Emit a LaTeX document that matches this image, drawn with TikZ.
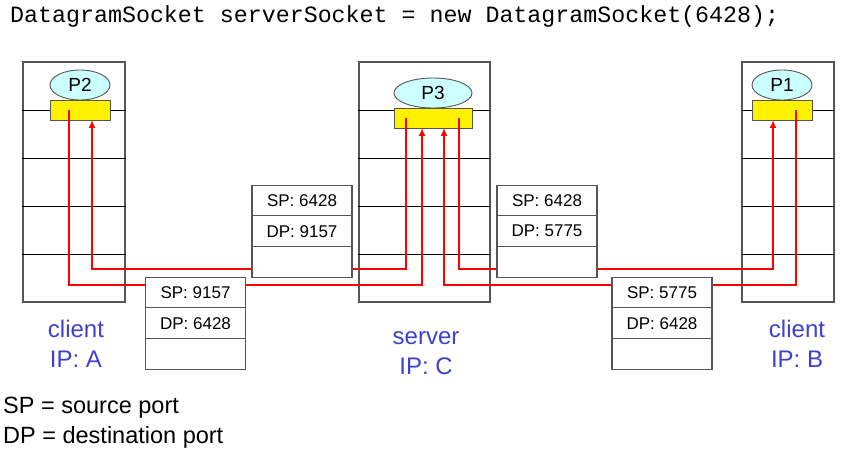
\documentclass[tikz,border=0pt]{standalone}
\usepackage{fontspec}
\setmainfont{Liberation Sans}
\setmonofont{Liberation Mono}
\usepackage{xcolor}
\usepackage{tikz}
\usetikzlibrary{positioning,arrows.meta,shapes.geometric}
\definecolor{hostblue}{RGB}{64,64,208}
\definecolor{procfill}{RGB}{204,255,255}
\definecolor{edgegray}{RGB}{85,85,85}
\def\sz#1{\fontsize{#1}{1.25\dimexpr#1pt\relax}\selectfont}

\begin{document}
\begin{tikzpicture}[x=1pt,y=-1pt]
    \tikzstyle{host}=[draw=edgegray,line width=1.3pt,minimum height=240pt,inner sep=0pt]
    \tikzstyle{layer}=[black,line width=0.9pt]
    \tikzstyle{proc}=[ellipse,draw=edgegray,fill=procfill,line width=0.9pt,minimum height=30pt,inner sep=0pt,outer sep=0pt,font=\sz{19}]
    \tikzstyle{sock}=[draw=edgegray,fill=yellow,line width=0.9pt,minimum height=20pt,inner sep=0pt,outer sep=0pt]
    \tikzstyle{seg}=[draw=edgegray,fill=white,line width=1.1pt,minimum width=100pt,minimum height=30.7pt,inner sep=0pt,outer sep=0pt,font=\sz{17}]
    \tikzstyle{flow}=[red,line width=1.9pt]
    \tikzstyle{flowin}=[flow,-{Latex[length=8pt,width=7pt]}]
    \tikzstyle{hostlabel}=[hostblue,align=center,font=\fontsize{24}{30}\selectfont]
    \useasboundingbox (0,0) rectangle (842,449);
    \node[anchor=base west,inner sep=0pt,font=\ttfamily\sz{23.3}] (title) at (10,23)
      {DatagramSocket serverSocket = new DatagramSocket(6428);};
    \node[host,minimum width=102pt] (hostA) at (74,182) {};
    \node[host,minimum width=131pt] (hostC) at (424.5,182) {};
    \node[host,minimum width=92pt] (hostB) at (788,182) {};
    \foreach \h in {hostA,hostC,hostB}
      \foreach \y in {110,158,206,254}
        \draw[layer] (\h.west |- 0,\y) -- (\h.east |- 0,\y);
    \node[proc,minimum width=60pt] (procA) at (80,85) {P2};
    \node[sock,minimum width=60pt,below=0pt of procA] (sockA) {};
    \node[proc,minimum width=78pt] (procC) at (433,93) {P3};
    \node[sock,minimum width=78pt,below=0pt of procC] (sockC) {};
    \node[proc,minimum width=60pt] (procB) at (782,85) {P1};
    \node[sock,minimum width=60pt,below=0pt of procB] (sockB) {};
    \coordinate (lo) at (0,285);
    \coordinate (hi) at (0,269);
    \coordinate (aout) at ([xshift=-11pt]sockA.center);
    \coordinate (ain) at ([xshift=12pt]sockA.south);
    \coordinate (coutA) at ([xshift=-27pt]sockC.center);
    \coordinate (cinA) at ([xshift=-11pt]sockC.south);
    \coordinate (cinB) at ([xshift=11pt]sockC.south);
    \coordinate (coutB) at ([xshift=26pt]sockC.center);
    \coordinate (bin) at ([xshift=-9pt]sockB.south);
    \coordinate (bout) at ([xshift=14pt]sockB.center);
    \draw[flowin] (aout) |- (cinA |- lo) -- (cinA);
    \draw[flowin] (coutA) |- (ain |- hi) -- (ain);
    \draw[flowin] (bout) |- (cinB |- lo) -- (cinB);
    \draw[flowin] (coutB) |- (bin |- hi) -- (bin);
    \node[seg] (segACsp) at (195.5,292.5) {SP: 9157};
    \node[seg,below=0pt of segACsp] (segACdp) {DP: 6428};
    \node[seg,below=0pt of segACdp] (segACpl) {};
    \node[seg] (segCAsp) at (302,200.5) {SP: 6428};
    \node[seg,below=0pt of segCAsp] (segCAdp) {DP: 9157};
    \node[seg,below=0pt of segCAdp] (segCApl) {};
    \node[seg] (segCBsp) at (547,200.5) {SP: 6428};
    \node[seg,below=0pt of segCBsp] (segCBdp) {DP: 5775};
    \node[seg,below=0pt of segCBdp] (segCBpl) {};
    \node[seg] (segBCsp) at (662,292.5) {SP: 5775};
    \node[seg,below=0pt of segBCsp] (segBCdp) {DP: 6428};
    \node[seg,below=0pt of segBCdp] (segBCpl) {};
    \node[hostlabel] (labA) at (76,344) {client\\IP: A};
    \node[hostlabel] (labC) at (426,353) {server\\IP: C};
    \node[hostlabel] (labB) at (797,344) {client\\IP: B};
    \node[anchor=base west,inner sep=0pt,font=\sz{23.5}] (legsp) at (3,413) {SP = source port};
    \node[anchor=base west,inner sep=0pt,font=\sz{23.5}] (legdp) at (3,443) {DP = destination port};
  \end{tikzpicture}
\end{document}
